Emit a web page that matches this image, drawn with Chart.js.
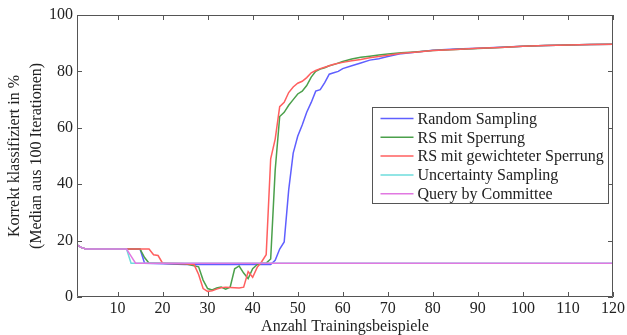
<!DOCTYPE html>
<html>
<head>
<meta charset="utf-8">
<script src="https://cdn.jsdelivr.net/npm/chart.js@4"></script>
<style>
html, body { margin: 0; padding: 0; background: #fff; }
</style>
</head>
<body>
<canvas id="chart" width="627" height="335"></canvas>
<script>
// tick labels
const xTicks = [10, 20, 30, 40, 50, 60, 70, 80, 90, 100, 110, 120];
const yTicks = [0, 20, 40, 60, 80, 100];

// Random Sampling
const rsX = [1, 2, 3, 15, 16, 20, 25, 30, 35, 40, 44, 45, 46, 47, 48, 49, 50, 51, 52, 53, 54, 55, 56, 57, 58, 59, 60, 62, 64, 66, 68, 70, 73, 76, 80, 85, 90, 95, 100, 105, 110, 115, 120];
const rsY = [18.5, 17.5, 17, 17, 12, 11.8, 11.5, 11.5, 11.5, 11.5, 11.5, 13, 17, 19.5, 38, 51, 57, 61, 65.5, 69, 73, 73.5, 76, 79, 79.5, 80, 81, 82, 83, 84, 84.5, 85.3, 86.3, 86.8, 87.5, 87.9, 88.2, 88.6, 88.9, 89.2, 89.4, 89.5, 89.6];

// RS mit Sperrung
const sperrX = [1, 2, 3, 15, 16, 17, 20, 25, 28, 29, 30, 31, 32, 33, 34, 35, 36, 37, 38, 39, 40, 41, 42, 43, 44, 45, 46, 47, 48, 49, 50, 51, 52, 53, 54, 55, 56, 57, 58, 60, 62, 64, 66, 68, 70, 73, 76, 80, 85, 90, 95, 100, 105, 110, 115, 120];
const sperrY = [18.5, 17.5, 17, 17, 14, 12, 12, 11.8, 10.7, 6, 3, 2.5, 3.2, 3.5, 2.8, 3.5, 10, 11, 8.5, 6.5, 10, 11.5, 12, 12, 13.5, 45, 64, 65.5, 68, 70, 72, 73, 75, 78, 80, 80.8, 81.3, 82, 82.4, 83.5, 84.4, 85, 85.4, 85.8, 86.2, 86.6, 86.9, 87.4, 87.8, 88.1, 88.5, 88.9, 89.2, 89.4, 89.5, 89.6];

// RS mit gewichteter Sperrung
const gewX = [1, 2, 3, 17, 18, 19, 20, 25, 27, 28, 29, 30, 31, 32, 33, 34, 35, 36, 37, 38, 39, 40, 41, 42, 43, 44, 45, 46, 47, 48, 49, 50, 51, 52, 53, 54, 55, 56, 58, 60, 62, 64, 66, 68, 70, 73, 76, 80, 85, 90, 95, 100, 105, 110, 115, 120];
const gewY = [18.5, 17.5, 17, 17, 15, 14.7, 12, 11.8, 11.5, 8, 3, 2, 2.2, 2.8, 3.3, 3.5, 3.4, 3.3, 3.2, 3.5, 9, 7, 10.5, 12.5, 15, 49, 56, 67.5, 69, 72.5, 74.5, 75.8, 76.5, 77.8, 79.5, 80.3, 81, 81.5, 82.5, 83.2, 83.8, 84.2, 84.8, 85.3, 85.7, 86.4, 86.8, 87.4, 87.8, 88.2, 88.5, 88.9, 89.2, 89.4, 89.5, 89.6];

// Uncertainty Sampling
const usX = [1, 2, 3, 12, 13, 120];
const usY = [18.5, 17.5, 17, 17, 12, 12];

// Query by Committee
const qbcX = [1, 2, 3, 12, 13, 14, 120];
const qbcY = [18.5, 17.5, 17, 17, 14.5, 12, 12];

const pts = (xs, ys) => xs.map((v, i) => ({ x: v, y: ys[i] }));

Chart.defaults.font.family = '"Liberation Serif", "Times New Roman", serif';
Chart.defaults.font.size = 16;
Chart.defaults.color = '#222';

// frame with inward ticks, plus the boxed legend
const frameAndLegend = {
  id: 'frameAndLegend',
  afterDatasetsDraw(chart) {
    const { ctx, chartArea: a, scales: { x, y } } = chart;
    ctx.save();
    ctx.strokeStyle = '#555';
    ctx.lineWidth = 1;
    ctx.beginPath();
    ctx.rect(a.left + 0.5, a.top + 0.5, a.right - a.left - 1, a.bottom - a.top - 1);
    xTicks.forEach(v => {
      const px = Math.round(x.getPixelForValue(v)) + 0.5;
      ctx.moveTo(px, a.bottom); ctx.lineTo(px, a.bottom - 5);
      ctx.moveTo(px, a.top); ctx.lineTo(px, a.top + 5);
    });
    yTicks.forEach(v => {
      const py = Math.round(y.getPixelForValue(v)) + 0.5;
      ctx.moveTo(a.left, py); ctx.lineTo(a.left + 5, py);
      ctx.moveTo(a.right, py); ctx.lineTo(a.right - 5, py);
    });
    ctx.stroke();

    // legend
    const bw = 236, bh = 96;
    const bx = Math.round(a.right - 5 - bw) + 0.5;
    const by = Math.round(a.top + 92) + 0.5;
    ctx.fillStyle = '#fff';
    ctx.fillRect(bx, by, bw, bh);
    ctx.strokeStyle = '#555';
    ctx.strokeRect(bx, by, bw, bh);
    ctx.font = '16px "Liberation Serif", "Times New Roman", serif';
    ctx.textBaseline = 'middle';
    ctx.textAlign = 'left';
    chart.data.datasets.forEach((ds, i) => {
      const ry = by + 11 + i * 18.8;
      ctx.strokeStyle = ds.borderColor;
      ctx.lineWidth = 1.5;
      ctx.beginPath();
      ctx.moveTo(bx + 8, ry); ctx.lineTo(bx + 41, ry);
      ctx.stroke();
      ctx.fillStyle = '#222';
      ctx.fillText(ds.label, bx + 45, ry + 1);
    });
    ctx.restore();
  }
};

new Chart(document.getElementById('chart'), {
  type: 'line',
  data: {
    datasets: [
      { label: 'Random Sampling', data: pts(rsX, rsY), borderColor: 'rgb(95,95,255)', order: 5 },
      { label: 'RS mit Sperrung', data: pts(sperrX, sperrY), borderColor: 'rgb(75,160,75)', order: 4 },
      { label: 'RS mit gewichteter Sperrung', data: pts(gewX, gewY), borderColor: 'rgb(255,95,95)', order: 3 },
      { label: 'Uncertainty Sampling', data: pts(usX, usY), borderColor: 'rgb(110,220,220)', order: 2 },
      { label: 'Query by Committee', data: pts(qbcX, qbcY), borderColor: 'rgb(225,120,225)', order: 1 }
    ]
  },
  options: {
    responsive: false,
    animation: false,
    devicePixelRatio: 1,
    layout: { padding: { top: 15, right: 14, left: 0, bottom: 0 } },
    elements: {
      point: { radius: 0 },
      line: { borderWidth: 1.5, tension: 0 }
    },
    plugins: {
      legend: { display: false },
      tooltip: { enabled: false }
    },
    scales: {
      x: {
        type: 'linear',
        min: 1,
        max: 120,
        grid: { display: false, drawTicks: false },
        border: { display: false },
        ticks: { padding: 2, maxRotation: 0 },
        afterBuildTicks: s => { s.ticks = xTicks.map(v => ({ value: v })); },
        afterFit: s => { s.height = 38; },
        title: { display: true, text: 'Anzahl Trainingsbeispiele', padding: { top: 0, bottom: -1 } }
      },
      y: {
        min: 0,
        max: 100,
        grid: { display: false, drawTicks: false },
        border: { display: false },
        ticks: { padding: 4 },
        afterBuildTicks: s => { s.ticks = yTicks.map(v => ({ value: v })); },
        afterFit: s => { s.width = 77; },
        title: {
          display: true,
          text: ['Korrekt klassifiziert in %', '(Median aus 100 Iterationen)'],
          font: { lineHeight: 1.375 },
          padding: { top: 4, bottom: 0 }
        }
      }
    }
  },
  plugins: [frameAndLegend]
});
</script>
</body>
</html>
